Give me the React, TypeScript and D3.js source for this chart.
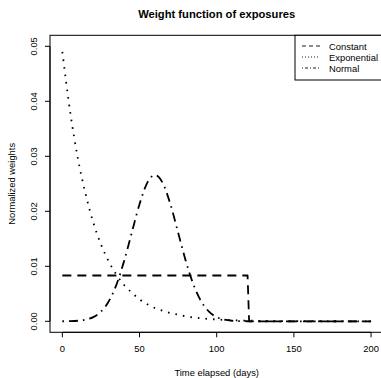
import React from "react";
import * as d3 from "d3";

const xTicks = [0, 50, 100, 150, 200];
const yTicks = [0, 0.01, 0.02, 0.03, 0.04, 0.05];
const yTickLabels = ["0.00", "0.01", "0.02", "0.03", "0.04", "0.05"];

const constDays = [0, 120, 121, 200];
const constVals = [0.00833, 0.00833, 0, 0];

const expDays = [0, 5, 10, 15, 20, 25, 30, 35, 40, 45, 50, 55, 60, 65, 70, 75, 80, 85, 90, 95, 100, 110, 120, 140, 160, 180, 200];
const expVals = [0.049, 0.0382, 0.0297, 0.0232, 0.018, 0.014, 0.0109, 0.0085, 0.0066, 0.0052, 0.004, 0.0031, 0.0024, 0.0019, 0.0015, 0.0012, 0.0009, 0.0007, 0.00054, 0.00042, 0.00033, 0.0002, 0.00012, 0.00004, 0.00002, 0.000006, 0.000002];

const normDays = [0, 5, 10, 15, 20, 25, 30, 35, 40, 45, 50, 55, 60, 65, 70, 75, 80, 85, 90, 95, 100, 105, 110, 115, 120, 125, 130, 200];
const normVals = [0.00001, 0.00003, 0.0001, 0.0003, 0.00076, 0.00175, 0.0036, 0.00663, 0.01094, 0.01613, 0.0213, 0.02516, 0.0266, 0.02516, 0.0213, 0.01613, 0.01094, 0.00663, 0.0036, 0.00175, 0.00076, 0.0003, 0.0001, 0.00003, 0.00001, 0.000002, 0, 0];

const legendLabels = ["Constant", "Exponential", "Normal"];

const W = 381;
const H = 378;
const FONT = "'Liberation Sans', Arial, Helvetica, sans-serif";

export default function App() {
  const x = d3.scaleLinear().domain([-8, 208]).range([50, 383.4]);
  const y = d3.scaleLinear().domain([-0.002, 0.052]).range([332.3, 35.3]);

  const mk = (days: number[], vals: number[], curve: d3.CurveFactory) =>
    d3
      .line<number>()
      .x((_, i) => x(days[i]))
      .y((v) => y(v))
      .curve(curve)(vals) || "";

  const constPath = mk(constDays, constVals, d3.curveLinear);
  const expPath = mk(expDays, expVals, d3.curveMonotoneX);
  const normPath = mk(normDays, normVals, d3.curveMonotoneX);

  const left = x(-8);
  const right = x(208);
  const top = y(0.052);
  const bottom = y(-0.002);

  const styles = [
    { dash: "9,6", legendDash: "4,3" },
    { dash: "1.6,6", legendDash: "1,2" },
    { dash: "1.6,5,9,5", legendDash: "1,2,3,2" },
  ];
  const paths = [constPath, expPath, normPath];

  const legLeft = 295;
  const legTop = top;
  const legBottom = 80;
  const rowY = [46, 57, 68];

  return (
    <svg
      width={W}
      height={H}
      style={{ position: "absolute", left: 0, top: 0, background: "#fff" }}
      fontFamily={FONT}
    >
      <rect x={0} y={0} width={W} height={H} fill="#fff" />
      <defs>
        <clipPath id="plotclip">
          <rect x={left} y={top} width={right - left} height={bottom - top} />
        </clipPath>
      </defs>
      <text x={(left + right) / 2} y={13.5} textAnchor="middle" dominantBaseline="central" fontWeight="bold" fontSize={11.2}>
        Weight function of exposures
      </text>

      <g clipPath="url(#plotclip)" fill="none" stroke="#000" strokeWidth={1.8} strokeLinecap="butt" strokeLinejoin="round">
        {paths.map((p, i) => (
          <path key={i} d={p} strokeDasharray={styles[i].dash} />
        ))}
      </g>

      {/* box */}
      <rect x={left} y={top} width={right - left} height={bottom - top} fill="none" stroke="#000" strokeWidth={1} />

      {/* x axis */}
      <line x1={x(0)} x2={x(200)} y1={bottom} y2={bottom} stroke="#000" />
      {xTicks.map((t) => (
        <g key={t}>
          <line x1={x(t)} x2={x(t)} y1={bottom} y2={bottom + 5} stroke="#000" />
          <text x={x(t)} y={348.7} textAnchor="middle" dominantBaseline="central" fontSize={9.4}>
            {t}
          </text>
        </g>
      ))}
      <text x={(left + right) / 2} y={372.5} textAnchor="middle" dominantBaseline="central" fontSize={9.4}>
        Time elapsed (days)
      </text>

      {/* y axis */}
      <line x1={left} x2={left} y1={y(0)} y2={y(0.05)} stroke="#000" />
      {yTicks.map((t, i) => (
        <g key={t}>
          <line x1={left} x2={left - 5} y1={y(t)} y2={y(t)} stroke="#000" />
          <text
            x={33.3}
            y={y(t)}
            textAnchor="middle"
            dominantBaseline="central"
            fontSize={9.4}
            transform={`rotate(-90 33.3 ${y(t)})`}
          >
            {yTickLabels[i]}
          </text>
        </g>
      ))}
      <text
        x={11.7}
        y={(top + bottom) / 2}
        textAnchor="middle"
        dominantBaseline="central"
        fontSize={9.4}
        transform={`rotate(-90 11.7 ${(top + bottom) / 2})`}
      >
        Normalized weights
      </text>

      {/* legend */}
      <rect x={legLeft} y={legTop} width={right - legLeft} height={legBottom - legTop} fill="#fff" stroke="#000" />
      {legendLabels.map((lab, i) => (
        <g key={lab}>
          <line x1={302} x2={320} y1={rowY[i]} y2={rowY[i]} stroke="#000" strokeWidth={0.9} strokeDasharray={styles[i].legendDash} />
          <text x={329} y={rowY[i]} dominantBaseline="central" fontSize={9.4}>
            {lab}
          </text>
        </g>
      ))}
    </svg>
  );
}
